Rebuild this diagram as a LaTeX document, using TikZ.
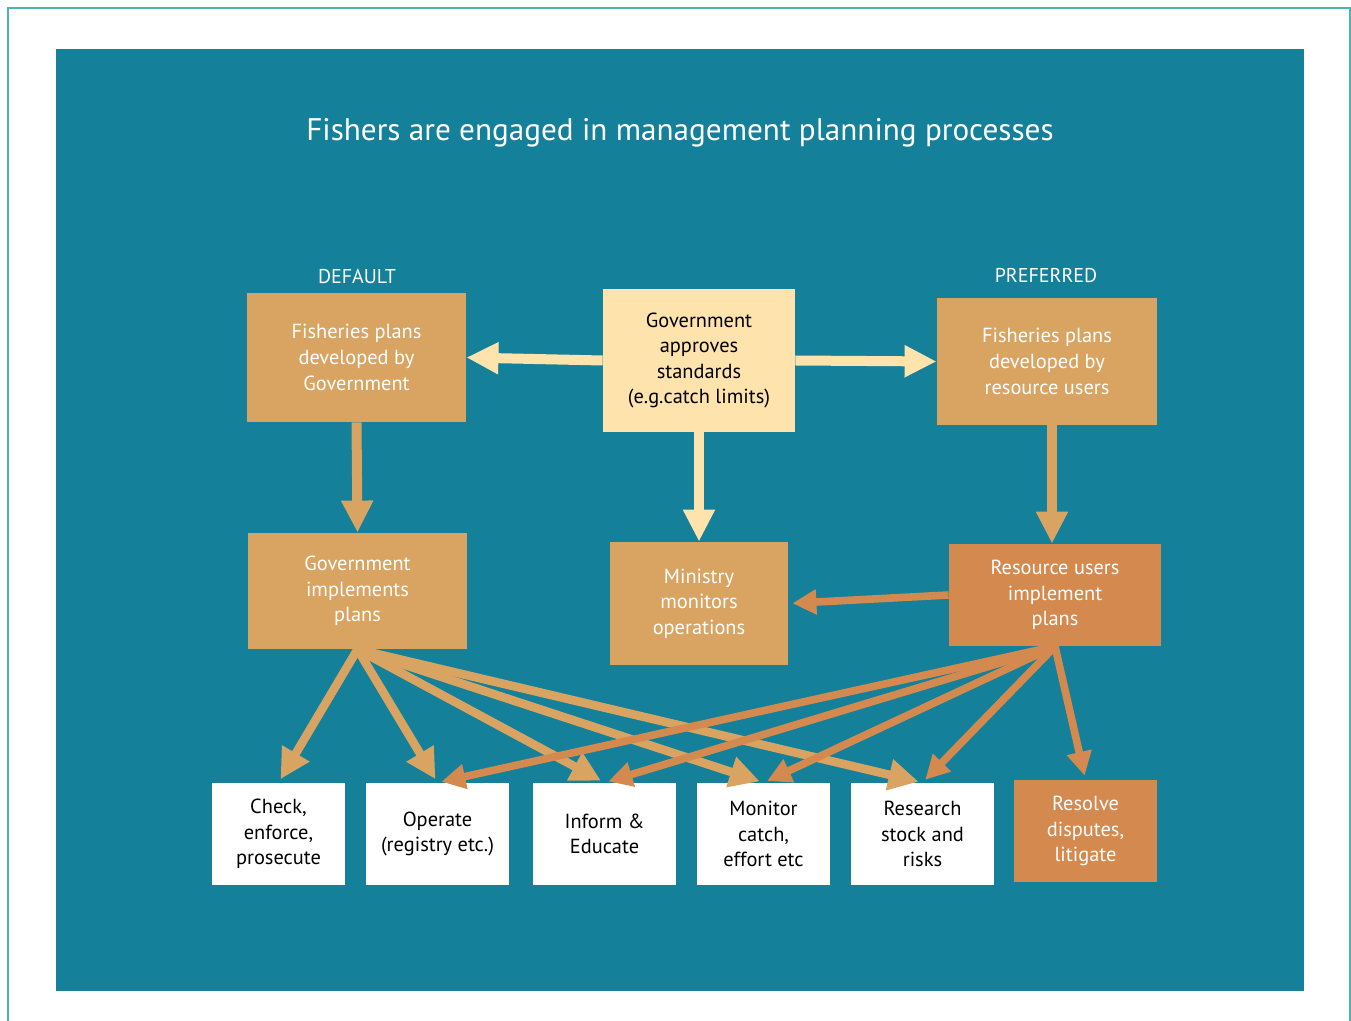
\documentclass[tikz,border=0pt]{standalone}
\usepackage{fontspec}
\setmainfont{PT Sans}
\usetikzlibrary{arrows.meta}
\definecolor{framecolor}{HTML}{4BB5B1}
\definecolor{seacolor}{HTML}{14809A}
\definecolor{tancolor}{HTML}{D9A462}
\definecolor{rustcolor}{HTML}{D4894F}
\definecolor{creamcolor}{HTML}{FEE3AC}

\begin{document}
\begin{tikzpicture}[x=0.5pt,y=-0.5pt,
    box/.style={inner sep=0pt,align=center,font=\fontsize{10.2}{12.8}\selectfont},
    tanbox/.style={box,fill=tancolor,text=white},
    rustbox/.style={box,fill=rustcolor,text=white},
    creambox/.style={box,fill=creamcolor,text=black},
    whitebox/.style={box,fill=white,text=black},
    bigarrow/.style={line width=5pt,-{Triangle[length=16pt,width=15pt]}},
    fanarrow/.style={line width=4.3pt,-{Triangle[length=15pt,width=15pt]},shorten >=2pt},
    thinarrow/.style={line width=3.8pt,-{Triangle[length=12pt,width=12pt]},shorten >=2pt}]
    \useasboundingbox (0,0) rectangle (1351,1021);
    \draw [framecolor,line width=1pt] (8,1021) -- (8,8) -- (1350,8) -- (1350,1021);
    \fill [seacolor] (56,49) rectangle (1304,991);

    \node [text=white,font=\fontsize{15.6}{18}\selectfont] (title) at (680,133)
        {Fishers are engaged in management planning processes};
    \node [text=white,font=\fontsize{10}{12}\selectfont] (default) at (357,276) {DEFAULT};
    \node [text=white,font=\fontsize{10}{12}\selectfont] (preferred) at (1046,276) {PREFERRED};

    \node [tanbox,minimum width=109.5pt,minimum height=64.5pt] (gplans) at (356.5,357.5)
        {Fisheries plans\\developed by\\Government};
    \node [creambox,minimum width=96pt,minimum height=71.5pt] (gov) at (699,360.5)
        {Government\\approves\\standards\\(e.g.catch limits)};
    \node [tanbox,minimum width=110pt,minimum height=63.5pt] (rplans) at (1047,361.5)
        {Fisheries plans\\developed by\\resource users};
    \node [tanbox,minimum width=109.5pt,minimum height=58pt] (gimpl) at (357.5,591)
        {Government\\implements\\plans};
    \node [tanbox,minimum width=89pt,minimum height=61.5pt] (ministry) at (699,603.5)
        {Ministry\\monitors\\operations};
    \node [rustbox,minimum width=106pt,minimum height=51pt] (rimpl) at (1055,595)
        {Resource users\\implement\\plans};

    \node [whitebox,minimum width=66.5pt,minimum height=51pt] (check) at (278.5,834)
        {Check,\\enforce,\\prosecute};
    \node [whitebox,minimum width=71.5pt,minimum height=51pt] (operate) at (437.5,834)
        {Operate\\(registry etc.)};
    \node [whitebox,minimum width=71.5pt,minimum height=51pt] (inform) at (604.5,834)
        {Inform \&\\Educate};
    \node [whitebox,minimum width=66.5pt,minimum height=51pt] (monitor) at (763.5,834)
        {Monitor\\catch,\\effort etc};
    \node [whitebox,minimum width=71.5pt,minimum height=51pt] (research) at (922.5,834)
        {Research\\stock and\\risks};
    \node [rustbox,minimum width=71.5pt,minimum height=51pt] (resolve) at (1085.5,831)
        {Resolve\\disputes,\\litigate};

    \draw [bigarrow,creamcolor] (gov.west) -- (gplans.east);
    \draw [bigarrow,creamcolor] (gov.east) -- (rplans.west);
    \draw [bigarrow,creamcolor] (gov.south) -- (ministry.north);
    \draw [bigarrow,tancolor] (gplans.south) -- (gimpl.north);
    \draw [bigarrow,tancolor] ([xshift=2.5pt]rplans.south) -- ([xshift=2.5pt]rplans.south |- rimpl.north);
    \draw [thinarrow,rustcolor] (rimpl.west) -- (ministry.east);

    \foreach \target in {check,operate,inform,monitor,research}
        \draw [fanarrow,tancolor] (gimpl.south) -- (\target.north);
    \foreach \target in {operate,inform,monitor,research,resolve}
        \draw [thinarrow,rustcolor] (rimpl.south) -- (\target.north);
\end{tikzpicture}
\end{document}
